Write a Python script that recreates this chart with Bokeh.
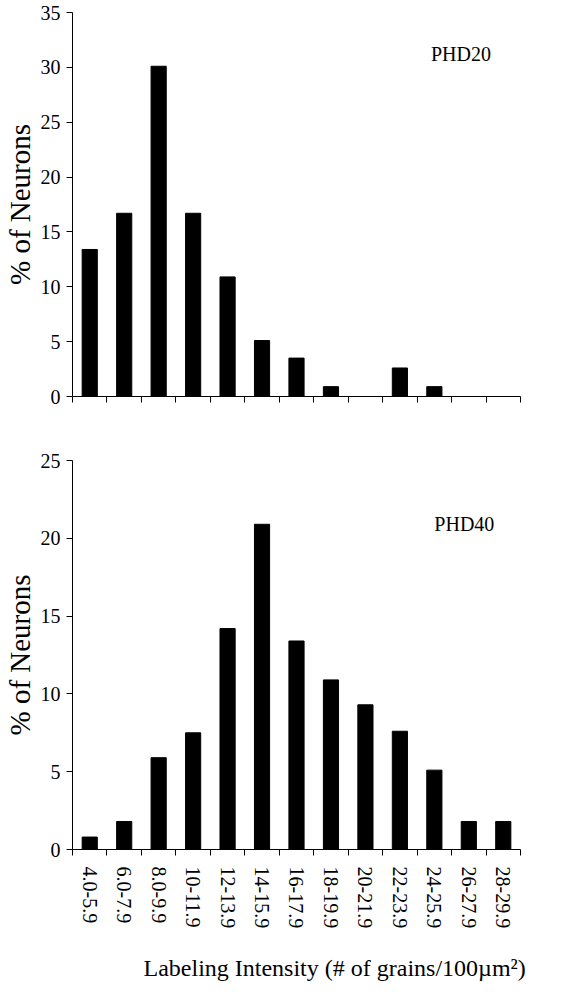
from bokeh.plotting import figure
from bokeh.models import Range1d, FixedTicker, Label, ColumnDataSource, Title
from bokeh.layouts import column
from bokeh.embed import file_html
from bokeh.resources import INLINE

# ---- data ----
categories = ["4.0-5.9", "6.0-7.9", "8.0-9.9", "10-11.9", "12-13.9", "14-15.9",
              "16-17.9", "18-19.9", "20-21.9", "22-23.9", "24-25.9", "26-27.9", "28-29.9"]
phd20 = [13.4, 16.7, 30.1, 16.7, 10.9, 5.1, 3.5, 0.9, 0.0, 2.6, 0.9, 0.0, 0.0]
phd40 = [0.8, 1.8, 5.9, 7.5, 14.2, 20.9, 13.4, 10.9, 9.3, 7.6, 5.1, 1.8, 1.8]
yticks_top = [0, 5, 10, 15, 20, 25, 30, 35]
yticks_bottom = [0, 5, 10, 15, 20, 25]
panel_names = ["PHD20", "PHD40"]
x_title = "Labeling Intensity (# of grains/100\u00b5m\u00b2)"
y_title = "% of Neurons"

FONT = "Liberation Serif"
n = len(categories)
centers = [i + 0.5 for i in range(n)]
bounds = list(range(n + 1))


def make_fig(vals, yticks, name, top_border, bottom_border, frame_h, name_x, name_y, show_labels):
    p = figure(frame_width=448, frame_height=frame_h,
               x_range=Range1d(0, n), y_range=Range1d(0, yticks[-1]),
               output_backend="svg", toolbar_location=None,
               min_border_left=60, min_border_right=53,
               min_border_top=top_border, min_border_bottom=bottom_border)
    p.outline_line_color = None
    p.grid.visible = False
    p.background_fill_color = "white"
    p.border_fill_color = "white"
    src = ColumnDataSource(dict(x=centers, top=vals))
    p.vbar(x="x", top="top", bottom=0, width=0.44, source=src,
           fill_color="black", line_color="black")

    # y axis
    ya = p.yaxis[0]
    ya.ticker = FixedTicker(ticks=yticks)
    ya.minor_tick_line_color = None
    ya.major_tick_in = 0
    ya.major_tick_out = 6
    ya.major_label_standoff = 6
    ya.major_label_text_font = FONT
    ya.major_label_text_font_size = "20px"
    ya.major_label_text_color = "black"
    ya.axis_label = y_title
    ya.axis_label_text_font = FONT
    ya.axis_label_text_font_style = "normal"
    ya.axis_label_text_font_size = "29px"
    ya.axis_label_text_color = "black"
    ya.axis_label_standoff = 2
    ya.axis_line_color = "black"
    ya.major_tick_line_color = "black"

    # x axis: boundary ticks as minor ticks, labels at centres
    xa = p.xaxis[0]
    xa.ticker = FixedTicker(ticks=centers, minor_ticks=bounds)
    xa.major_tick_line_color = None
    xa.minor_tick_line_color = "black"
    xa.minor_tick_in = 0
    xa.minor_tick_out = 6
    xa.axis_line_color = "black"
    if show_labels:
        xa.major_label_overrides = {c: lab for c, lab in zip(centers, categories)}
        xa.major_label_orientation = -1.5708
        xa.major_label_standoff = 11
        xa.major_label_text_font = FONT
        xa.major_label_text_font_size = "20px"
        xa.major_label_text_color = "black"
    else:
        xa.major_label_text_font_size = "0px"
        xa.major_label_text_color = None

    p.add_layout(Label(x=name_x, y=name_y, text=name, text_font=FONT,
                       text_font_size="20px", text_color="black",
                       text_baseline="alphabetic", text_align="left"))
    return p


p1 = make_fig(phd20, yticks_top, panel_names[0], 12, 18, 384, 10.4, 31.2, False)
p2 = make_fig(phd40, yticks_bottom, panel_names[1], 46, 130, 389, 10.5, 20.9, True)

# blank spacer title to push the axis title further down
spacer = Title(text=" ", text_font_size="12px", standoff=0, text_color="white")
p2.add_layout(spacer, "below")
xt = Title(text=x_title, align="left", offset=71, standoff=10,
           text_font=FONT, text_font_size="24px", text_font_style="normal",
           text_color="black")
p2.add_layout(xt, "below")

layout = column(p1, p2, spacing=0)
open("out.html", "w").write(file_html(layout, INLINE))
